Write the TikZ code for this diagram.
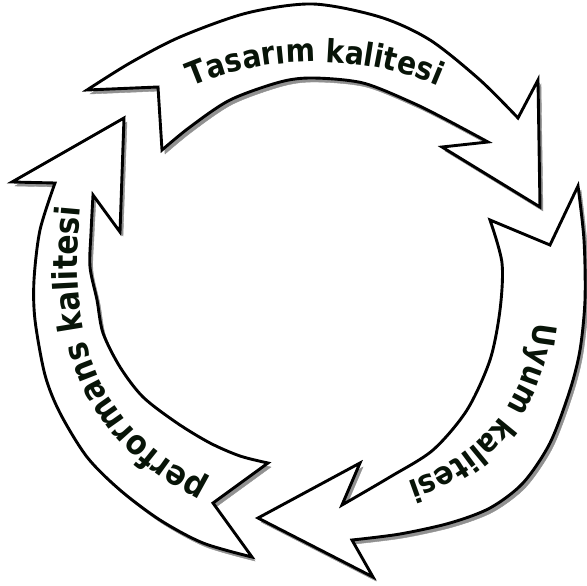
\documentclass[tikz,border=0pt]{standalone}
\usepackage{fontspec}
\usepackage{tikz}
\usetikzlibrary{decorations.text}
\newfontfamily\bandfamily{DejaVu Sans}[FakeStretch=0.88]
\definecolor{inkgreen}{RGB}{8,20,8}
\definecolor{shadowgray}{RGB}{145,145,145}
\tikzset{
  band/.style={draw=black,line width=2.9pt,fill=white,
    preaction={fill=shadowgray,draw=shadowgray,transform canvas={xshift=3pt,yshift=-4pt}}},
  bandlabel/.style 2 args={decorate,decoration={text along path,text align=center,text color=inkgreen,
    text={|\bandfamily\bfseries\fontsize{#1}{#1}\selectfont|#2}}}
}

\begin{document}
\begin{tikzpicture}[x=1pt,y=-1pt]
\useasboundingbox (0,0) rectangle (587,586);
\path[band] (87,90) -- (158,87) -- (162,150)
  -- plot[smooth] coordinates {(162,150) (190,127) (230,100) (280,82) (313,78) (363,83) (413,103) (447,120) (488,142)}
  -- (442,147) -- (540,207) -- (538,80) -- (518,118)
  -- plot[smooth] coordinates {(518,118) (480,80) (430,40) (380,17) (313,4) (247,13) (180,37) (130,63) (87,90)}
  -- cycle;
\path[band] (12,182) -- (124,118) -- (120,232) -- (93,195)
  -- plot[smooth] coordinates {(93,195) (91,233) (90,267) (97,300) (103,333) (120,367) (143,397) (177,423) (210,443) (240,456) (268,463)}
  -- (213,503) -- (252,557)
  -- plot[smooth] coordinates {(252,557) (203,543) (160,520) (120,490) (87,457) (60,413) (45,375) (35,320) (34,280) (40,230) (55,183)}
  -- cycle;
\path[band] (490,220) -- (550,245) -- (578,186)
  -- plot[smooth] coordinates {(578,186) (584,240) (585,300) (580,350) (570,390) (550,443) (523,483) (490,508) (450,523) (400,534) (352,540)}
  -- (373,577) -- (258,518) -- (360,463) -- (342,505)
  -- plot[smooth] coordinates {(342,505) (390,477) (433,450) (467,410) (490,360) (500,310) (502,263) (490,220)}
  -- cycle;
\path[bandlabel={32}{Tasarım kalitesi}] (180,92) .. controls (260,52) and (370,52) .. (450,92);
\path[bandlabel={34}{performans kalitesi}] (215,487) .. controls (100,430) and (65,350) .. (81,200);
\path[bandlabel={32}{Uyum kalitesi}] (535,315) .. controls (530,400) and (480,460) .. (400,484);
\end{tikzpicture}
\end{document}
